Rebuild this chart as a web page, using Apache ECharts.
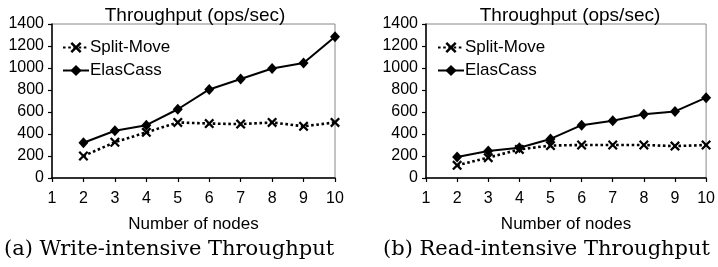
<!DOCTYPE html>
<html>
<head>
<meta charset="utf-8">
<script src="https://cdn.jsdelivr.net/npm/echarts@6/dist/echarts.min.js"></script>
<style>
  html, body { margin: 0; padding: 0; background: #fff; }
  #chart { width: 718px; height: 267px; }
</style>
</head>
<body>
<div id="chart"></div>
<script>
(function(){
    let nodes = [2, 3, 4, 5, 6, 7, 8, 9, 10];
    let writeSplitMove = [200, 325, 415, 505, 495, 490, 505, 470, 505];
    let writeElasCass = [320, 430, 480, 625, 805, 900, 995, 1045, 1285];
    let readSplitMove = [115, 185, 260, 295, 300, 300, 300, 290, 300];
    let readElasCass = [190, 245, 275, 355, 480, 520, 580, 605, 730];
    let titles = ['Throughput (ops/sec)', 'Throughput (ops/sec)'];
    let captions = ['(a) Write-intensive Throughput', '(b) Read-intensive Throughput'];

    let font = '"Liberation Sans", Arial, sans-serif';
    // filled "x" shape for the split-move markers
    let crossPath = 'path://M0,1.6L1.6,0L5,3.4L8.4,0L10,1.6L6.6,5L10,8.4L8.4,10L5,6.6L1.6,10L0,8.4L3.4,5Z';

    let pairs = function(ys){
        return nodes.map((x, i) => [x, ys[i]]);
    };

    let grids = [
        { left: 52, right: 383, top: 24, bottom: 89 },
        { left: 426, right: 7, top: 24, bottom: 89 }
    ];

    let xAxes = grids.map((g, i) => ({
        type: 'value',
        gridIndex: i,
        min: 1,
        max: 10,
        interval: 1,
        name: 'Number of nodes',
        nameLocation: 'middle',
        nameGap: 38,
        nameTextStyle: { fontFamily: font, fontSize: 17, color: '#000' },
        axisLine: { lineStyle: { color: '#000', width: 1.5 } },
        axisTick: { show: true, length: 4, lineStyle: { color: '#000', width: 1.2 } },
        axisLabel: { fontFamily: font, fontSize: 16, color: '#000', margin: 13 },
        splitLine: { show: false }
    }));

    let yAxes = grids.map((g, i) => ({
        type: 'value',
        gridIndex: i,
        min: 0,
        max: 1400,
        interval: 200,
        axisLine: { show: true, lineStyle: { color: '#000', width: 1.5 } },
        axisTick: { show: true, length: 4, lineStyle: { color: '#000', width: 1.2 } },
        axisLabel: { fontFamily: font, fontSize: 16, color: '#000', margin: 8,
                     formatter: (v) => String(v) },
        splitLine: { show: false }
    }));

    let makeSeries = function(idx, split, elas){
        return [
            {
                name: 'Split-Move',
                type: 'line',
                xAxisIndex: idx,
                yAxisIndex: idx,
                data: pairs(split),
                symbol: crossPath,
                symbolSize: 10,
                lineStyle: { color: '#000', width: 2.6, type: [2.6, 2.6] },
                itemStyle: { color: '#000' },
                z: 3
            },
            {
                name: 'ElasCass',
                type: 'line',
                xAxisIndex: idx,
                yAxisIndex: idx,
                data: pairs(elas),
                symbol: 'diamond',
                symbolSize: [10, 11],
                lineStyle: { color: '#000', width: 2 },
                itemStyle: { color: '#000' },
                z: 4
            }
        ];
    };

    let legendBase = {
        orient: 'vertical',
        top: 39,
        padding: 0,
        itemWidth: 26,
        itemHeight: 14,
        itemGap: 6,
        textStyle: { fontFamily: font, fontSize: 17, color: '#000', padding: [0, 0, 0, -4] },
        data: ['Split-Move', 'ElasCass']
    };

    let chartopts = {
        animation: false,
        backgroundColor: '#fff',
        title: [
            { text: titles[0], left: 190, top: 1, textAlign: 'center',
              textStyle: { fontFamily: font, fontSize: 19, fontWeight: 'normal', color: '#000' } },
            { text: titles[1], left: 565, top: 1, textAlign: 'center',
              textStyle: { fontFamily: font, fontSize: 19, fontWeight: 'normal', color: '#000' } }
        ],
        legend: [
            Object.assign({}, legendBase, { left: 62 }),
            Object.assign({}, legendBase, { left: 437 })
        ],
        grid: grids.map(g => Object.assign({ show: true, borderColor: '#888', borderWidth: 1 }, g)),
        xAxis: xAxes,
        yAxis: yAxes,
        series: makeSeries(0, writeSplitMove, writeElasCass).concat(makeSeries(1, readSplitMove, readElasCass)),
        graphic: [
            { type: 'text', left: 4, top: 239,
              style: { text: captions[0], font: '21px "DejaVu Serif", serif', fill: '#000' } },
            { type: 'text', left: 383, top: 239,
              style: { text: captions[1], font: '21px "DejaVu Serif", serif', fill: '#000' } }
        ]
    };

    let chart = echarts.init(document.getElementById('chart'));
    chart.setOption(chartopts);
})();
</script>
</body>
</html>
